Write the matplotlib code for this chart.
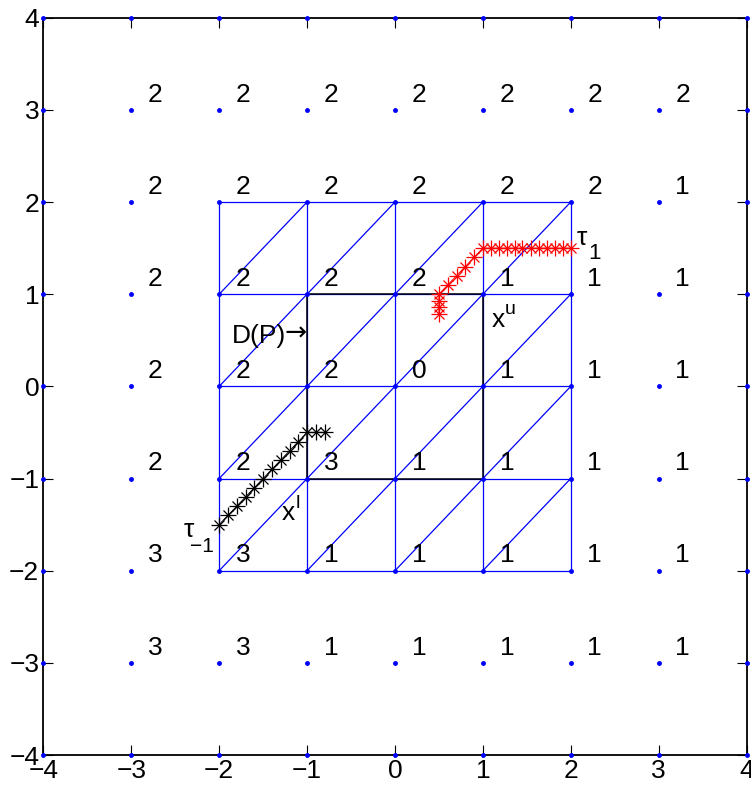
import matplotlib
matplotlib.use('Agg')
import matplotlib.pyplot as plt
import numpy as np

plt.rcParams['font.family'] = ['Liberation Sans', 'DejaVu Sans']

# integer label at each grid point, rows y = 3 .. -3, columns x = -3 .. 3
grid_x = [-3, -2, -1, 0, 1, 2, 3]
grid_y = [3, 2, 1, 0, -1, -2, -3]
labels = [
    [2, 2, 2, 2, 2, 2, 2],
    [2, 2, 2, 2, 2, 2, 1],
    [2, 2, 2, 2, 1, 1, 1],
    [2, 2, 2, 0, 1, 1, 1],
    [2, 2, 3, 1, 1, 1, 1],
    [3, 3, 1, 1, 1, 1, 1],
    [3, 3, 1, 1, 1, 1, 1],
]

# triangulated region and box D(P)
tri_range = [-2, -1, 0, 1, 2]
box_x = [-1, 1, 1, -1, -1]
box_y = [-1, -1, 1, 1, -1]

# path tau_1 (red)
red_x = [0.5, 0.5, 0.5, 0.5, 0.6, 0.7, 0.8, 0.9, 1.0, 1.09, 1.18, 1.27, 1.36,
         1.45, 1.55, 1.64, 1.73, 1.82, 1.91, 2.0]
red_y = [0.79, 0.86, 0.93, 1.0, 1.1, 1.2, 1.3, 1.4, 1.5, 1.5, 1.5, 1.5, 1.5,
         1.5, 1.5, 1.5, 1.5, 1.5, 1.5, 1.5]

# path tau_-1 (black)
blk_x = [-2.0, -1.9, -1.8, -1.7, -1.6, -1.5, -1.4, -1.3, -1.2, -1.1, -1.0, -0.9, -0.8]
blk_y = [-1.5, -1.4, -1.3, -1.2, -1.1, -1.0, -0.9, -0.8, -0.7, -0.6, -0.5, -0.5, -0.5]

fig = plt.figure(figsize=(7.51, 7.96), dpi=100)
ax = fig.add_axes([0.0578, 0.0515, 0.9363, 0.9263])

blue = '#0000ff'
lo, hi = tri_range[0], tri_range[-1]
for v in tri_range:
    ax.plot([lo, hi], [v, v], color=blue, lw=0.9)
    ax.plot([v, v], [lo, hi], color=blue, lw=0.9)
for i in tri_range[:-1]:
    for j in tri_range[:-1]:
        ax.plot([i, i + 1], [j, j + 1], color=blue, lw=0.9)

ax.plot(box_x, box_y, color='black', lw=1.1)

# dots at integer points
pts = np.arange(-4, 5)
gx, gy = np.meshgrid(pts, pts)
ax.plot(gx.ravel(), gy.ravel(), '.', color=blue, ms=5, clip_on=False, zorder=5)

# paths with asterisk markers
for px, py, c in [(red_x, red_y, 'red'), (blk_x, blk_y, 'black')]:
    ax.plot(px, py, '-', color=c, lw=0.7)
    ax.plot(px, py, '+', color=c, ms=11, mew=0.9, ls='none')
    ax.plot(px, py, 'x', color=c, ms=7.5, mew=0.9, ls='none')

fs = 19
for r, yv in enumerate(grid_y):
    for c, xv in enumerate(grid_x):
        ax.text(xv + 0.19, yv + 0.09, str(labels[r][c]), fontsize=fs,
                ha='left', va='baseline')

# annotations: base text plus hand placed sub/superscripts
ax.text(2.07, 1.53, 'τ', fontsize=fs, ha='left', va='baseline')
ax.text(2.20, 1.38, '1', fontsize=16, ha='left', va='baseline')
ax.text(-2.29, -1.63, 'τ', fontsize=fs, ha='right', va='baseline')
ax.text(-2.06, -1.80, '−1', fontsize=15, ha='right', va='baseline')
ax.text(1.10, 0.64, 'x', fontsize=fs, ha='left', va='baseline')
ax.text(1.25, 0.79, 'u', fontsize=14, ha='left', va='baseline')
ax.text(-1.29, -1.45, 'x', fontsize=fs, ha='left', va='baseline')
ax.text(-1.13, -1.32, 'l', fontsize=14, ha='left', va='baseline')
ax.text(-1.86, 0.47, 'D(P)', fontsize=fs, ha='left', va='baseline')
ax.text(-1.0, 0.50, '→', fontsize=fs, ha='right', va='baseline',
        family='DejaVu Sans')

ax.set_xlim(-4, 4)
ax.set_ylim(-4, 4)
ax.set_xticks(pts)
ax.set_yticks(pts)
ax.set_xticklabels(['−' + str(-p) if p < 0 else str(p) for p in pts])
ax.set_yticklabels(['−' + str(-p) if p < 0 else str(p) for p in pts])
ax.tick_params(direction='in', top=True, right=True, length=7, width=0.8,
               labelsize=fs, pad=3)
for s in ax.spines.values():
    s.set_linewidth(1.3)

fig.savefig('out.png', dpi=100)
